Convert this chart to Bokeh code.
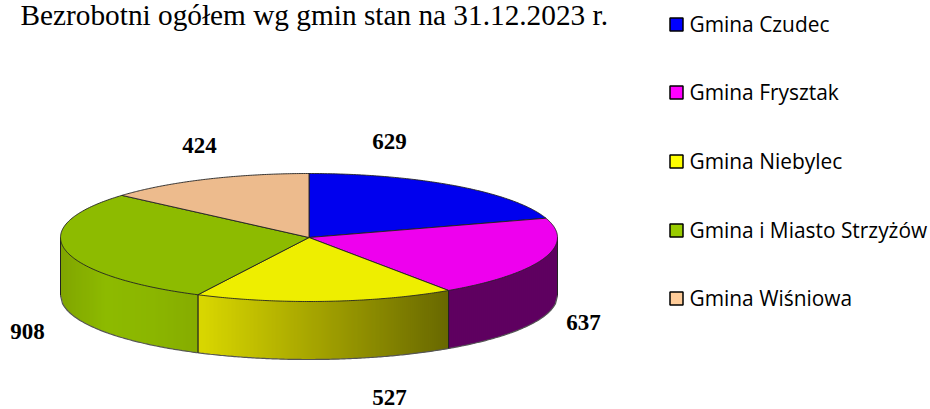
import numpy as np
from bokeh.plotting import figure
from bokeh.models import Range1d
from bokeh.core.properties import value
from bokeh.embed import file_html
from bokeh.resources import INLINE

title_text = "Bezrobotni ogółem wg gmin stan na 31.12.2023 r."
categories = ["Gmina Czudec", "Gmina Frysztak", "Gmina Niebylec", "Gmina i Miasto Strzyżów", "Gmina Wiśniowa"]
unemployed = [629, 637, 527, 908, 424]
swatch_colors = ["#0000FF", "#FF00FF", "#FFFF00", "#99CC00", "#FFCC99"]
top_colors = ["#0000EE", "#EE00EE", "#EEEE00", "#8DBB00", "#EDBB8D"]
# wall shading stops (left-to-right across the visible wall of each slice)
wall_stops = [
    [(0, 0, 140), (0, 0, 140)],
    [(95, 0, 96), (95, 0, 96)],
    [(218, 216, 0), (104, 104, 0)],
    [(128, 165, 0), (141, 186, 0), (139, 182, 0), (134, 172, 0)],
    [(180, 140, 100), (180, 140, 100)],
]
label_x = [389, 583, 389, 27, 199]
label_y = [141, 322, 397, 331, 145]
legend_y = [24, 92, 161, 230, 298]

CX, CY, RX, RY, DEPTH = 308.5, 237.0, 248.5, 64.0, 58.0
OUTLINE = "#222222"

p = figure(width=930, height=409, output_backend="svg", toolbar_location=None,
           x_range=Range1d(0, 930), y_range=Range1d(409, 0), min_border=0,
           outline_line_color=None, background_fill_color="white")
p.axis.visible = False
p.grid.visible = False


def rim(t_deg):
    t = np.radians(t_deg)
    return CX + RX * np.sin(t), CY - RY * np.cos(t)


def front_y(x):
    return CY + RY * np.sqrt(np.clip(1 - ((x - CX) / RX) ** 2, 0, 1))


edges = np.concatenate([[0], np.cumsum(unemployed)]) / sum(unemployed) * 360

# side wall: strips painted left to right, each one overlapping the next
for i in range(len(unemployed)):
    a, b = max(edges[i], 90), min(edges[i + 1], 270)
    if b <= a:
        continue
    xa, xb = rim(a)[0], rim(b)[0]
    xleft, xright = min(xa, xb), max(xa, xb)
    inner = np.arange(np.ceil(xleft), np.floor(xright) + 1, 2.0)
    bounds = np.unique(np.r_[xleft, inner, xright])
    stops = np.array(wall_stops[i], dtype=float)
    pos = np.linspace(0, 1, len(stops))
    xs, ys, cols = [], [], []
    for x0, x1 in zip(bounds[:-1], bounds[1:]):
        f = ((x0 + x1) / 2 - xleft) / (xright - xleft)
        c = [int(round(np.interp(f, pos, stops[:, k]))) for k in range(3)]
        x2 = min(x1 + 2.0, xright)
        y0, y1 = front_y(x0), front_y(x2)
        xs.append([x0, x2, x2, x0])
        ys.append([y0 - 1, y1 - 1, y1 + DEPTH, y0 + DEPTH])
        cols.append("#%02x%02x%02x" % tuple(c))
    p.patches(xs, ys, fill_color=cols, line_color=None)
    p.line(bounds, front_y(bounds) + DEPTH, line_color="#555555", line_width=1.2)
    for x in (xleft, xright):
        p.line([x, x], [front_y(x), front_y(x) + DEPTH], line_color=OUTLINE, line_width=1)

# top surface
for i in range(len(unemployed)):
    ts = np.linspace(edges[i], edges[i + 1], 120)
    x, y = rim(ts)
    p.patch(np.r_[CX, x], np.r_[CY, y], fill_color=top_colors[i], line_color=OUTLINE, line_width=0.9)

# data labels
p.text(label_x, label_y, text=[str(v) for v in unemployed], text_font=value("Liberation Serif"),
       text_font_style="bold", text_font_size="23px", text_color="#000000",
       text_align="center", text_baseline="middle")

# title
p.text([20], [14], text=[title_text], text_font=value("Liberation Serif"), text_font_size="29.3px",
       text_color="#000000", text_align="left", text_baseline="middle")

# legend
p.rect([676] * 5, legend_y, width=13, height=13, fill_color=swatch_colors, line_color="#000000", line_width=1.5)
p.text([689] * 5, [y - 1 for y in legend_y], text=categories, text_font=value("Open Sans"), text_font_size="20.9px",
       text_color="#000000", text_align="left", text_baseline="middle")

open("out.html", "w").write(file_html(p, INLINE))
